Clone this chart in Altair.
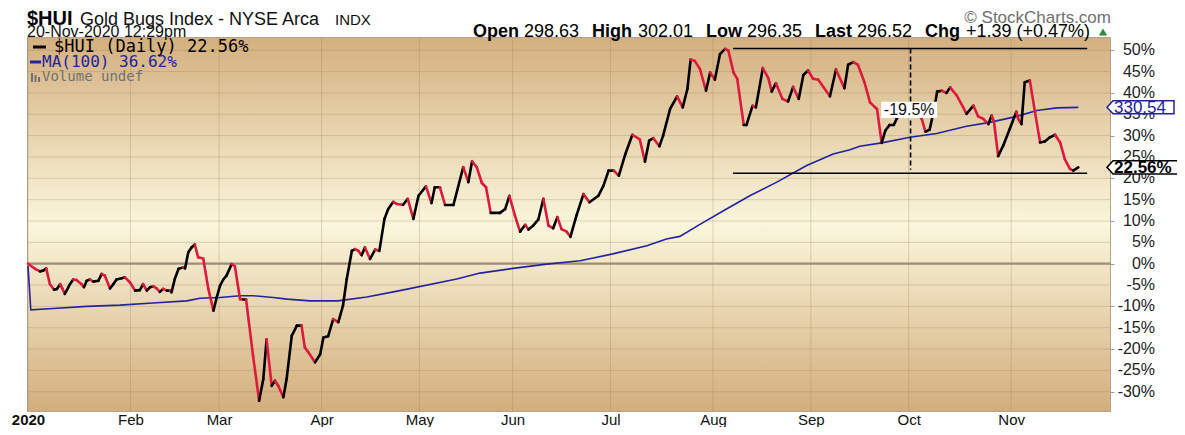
import altair as alt
import pandas as pd

# ---------------- data ----------------
# x = trading-day index since 2-Jan-2020, y = % change since start
hui_idx = [0, 1.5, 2.6, 3.3, 3.9, 4.7, 5.6, 6.2, 6.9, 7.4, 7.9, 9.0, 9.7, 10.4, 11.5, 12.0, 12.6, 13.3,
           14.0, 15.1, 15.8, 16.5, 17.6, 18.3, 19.0, 20.1, 20.8, 21.9, 23.0, 24.0, 24.7, 25.5, 26.2, 26.9,
           27.6, 28.3, 29.0, 29.8, 30.5, 30.8, 31.5, 32.3, 33.3, 33.7, 34.4, 35.1, 35.8, 36.5, 37.6, 38.7,
           39.8, 40.5, 41.2, 41.9, 42.6, 43.7, 44.4, 45.5, 46.2, 46.8, 48.3, 49.6, 50.5, 51.2, 52.3, 53.0,
           53.7, 54.8, 55.5, 56.6, 57.7, 58.7, 59.4, 60.2, 61.6, 62.7, 63.4, 64.4, 65.5, 66.6, 67.6, 68.4,
           69.5, 70.2, 70.9, 71.6, 72.3, 73.4, 74.5, 75.4, 76.5, 77.3, 78.4, 79.1, 80.5, 81.5, 82.7, 83.8,
           85.4, 86.6, 87.3, 88.4, 89.5, 91.3, 93.4, 94.5, 95.3, 96.3, 97.4, 98.3, 99.3, 101.3, 102.4, 103.3,
           104.5, 105.6, 106.7, 107.4, 108.4, 109.5, 110.6, 111.7, 112.7, 113.6, 114.5, 115.6, 116.4, 117.7,
           119.2, 120.5, 122.4, 123.5, 124.6, 125.7, 126.8, 128.2, 129.7, 131.3, 132.4, 133.3, 134.2, 135.5,
           136.3, 137.8, 139.3, 140.5, 141.5, 142.2, 143.1, 144.2, 145.5, 146.4, 147.4, 148.5, 149.6, 150.3,
           151.4, 152.2, 153.6, 154.2, 155.5, 156.2, 157.7, 158.9, 159.6, 160.5, 161.9, 163.1, 164.2, 165.4,
           166.4, 167.4, 168.5, 169.6, 172.1, 173.4, 175.2, 176.0, 177.1, 178.1, 179.5, 180.7, 181.8, 182.2,
           183.2, 184.0, 184.9, 185.8, 186.4, 188.2, 190.4, 191.8, 192.6, 193.5, 194.6, 195.1, 196.1, 197.1,
           197.9, 199.3, 200.7, 201.4, 202.9, 203.9, 205.0, 206.1, 206.8, 207.3, 208.2, 209.3, 210.7, 212.1,
           212.5, 213.2, 213.9, 215.0, 216.1, 217.2, 218.2, 219.3, 220.4, 221.5, 222.5, 223.6, 224.3, 225.4]
hui_pct = [0, -1.2, -1.8, -1.6, -1.1, -4.8, -6.1, -5.9, -4.8, -5.9, -7.1, -4.8, -3.7, -3.8, -4.8, -5.5, -4.0, -3.7,
           -4.2, -4.0, -2.4, -2.8, -5.8, -4.8, -3.7, -3.4, -3.2, -4.4, -6.3, -6.2, -4.8, -6.3, -5.5, -5.3,
           -5.8, -6.6, -5.9, -6.3, -6.3, -6.7, -3.6, -1.2, -0.9, -1.1, 2.7, 3.8, 4.5, 1.5, 1.2, -5.9,
           -11.0, -7.9, -5.2, -3.7, -2.8, -0.1, -0.6, -8.3, -8.4, -8.4, -21.6, -32.1, -27.0, -17.7, -28.6, -27.4,
           -28.6, -31.3, -27.0, -16.9, -14.5, -14.5, -19.6, -20.8, -23.1, -21.2, -17.3, -17.0, -13.0, -13.7, -9.8, -3.6,
           3.0, 3.4, 3.0, 2.0, 3.8, 1.1, 3.3, 3.0, 10.5, 12.8, 14.5, 14.0, 13.8, 15.2, 10.5, 15.9,
           18.1, 14.2, 17.9, 17.9, 13.75, 13.75, 22.6, 19.1, 24.0, 22.6, 18.9, 17.9, 11.9, 11.9, 12.8, 15.9,
           11.25, 7.5, 9.1, 8.0, 8.9, 10.3, 15.2, 8.9, 8.3, 10.9, 8.1, 7.5, 6.3, 11.25,
           16.3, 14.4, 15.9, 18.3, 21.8, 21.8, 20.6, 25.7, 30.2, 29.1, 23.9, 28.8, 29.4, 27.5,
           30.0, 36.25, 39.2, 36.6, 40.9, 47.8, 47.5, 45.6, 40.5, 44.8, 43.1, 49.1, 50.3, 49.9,
           44.8, 43.3, 32.5, 32.5, 37.0, 36.6, 45.8, 43.4, 40.3, 42.3, 38.6, 38.0, 41.4, 38.6,
           44.2, 45.25, 43.3, 43.1, 39.2, 45.5, 41.1, 46.6, 47.2, 46.6, 42.5, 37.8, 36.6, 36.25,
           28.3, 31.2, 32.5, 32.5, 33.9, 37.0, 36.0, 33.9, 30.9, 31.4, 37.0, 40.3, 40.5, 40.0,
           41.3, 39.4, 36.6, 35.1, 37.0, 34.5, 33.9, 32.7, 34.7, 33.3, 25.2, 27.7, 31.6, 35.6,
           33.9, 32.7, 42.5, 42.9, 35.5, 28.4, 28.6, 29.6, 30.2, 28.4, 24.5, 22.2, 21.8, 22.56]

ma_idx = [0, 0.6, 5.4, 12.6, 19.7, 26.8, 34.1, 36.9, 41.2, 45.5, 48.3, 52.6, 55.6, 60.5, 66.5, 72.7,
          79.8, 92.0, 97.0, 104.1, 111.3, 118.5, 125.5, 132.8, 137.0, 139.9, 144.2, 149.9, 154.9, 160.7,
          167.1, 172.8, 176.4, 178.5, 183.2, 189.3, 195.0, 201.4, 206.4, 212.2, 216.5, 220.8, 225.4]
ma_pct = [-0.5, -10.8, -10.5, -10.0, -9.7, -9.2, -8.7, -8.1, -7.9, -7.5, -7.5, -7.9, -8.3, -8.7, -8.7, -7.8,
          -6.3, -3.6, -2.2, -1.1, -0.1, 0.7, 2.3, 4.2, 5.8, 6.4, 9.2, 12.8, 15.9, 19.1,
          23.0, 25.7, 26.7, 27.5, 28.3, 29.6, 30.5, 32.2, 33.1, 34.5, 35.9, 36.5, 36.62]

month_idx = [0, 22, 41, 63, 84, 104, 125, 147, 168, 189, 211]
month_lbl = ["2020", "Feb", "Mar", "Apr", "May", "Jun", "Jul", "Aug", "Sep", "Oct", "Nov"]
y_ticks = list(range(-30, 55, 5))

range_start, range_end = 151.3, 227.3
range_top, range_bottom = 50.4, 21.2
drop_idx, drop_bottom = 189.4, 22.0
drop_label = "-19.5%"
last_pct, ma_last, ma_price = 22.56, 36.62, "330.54"

quote_parts = [("Open", True), ("298.63", False), ("High", True), ("302.01", False), ("Low", True),
               ("296.35", False), ("Last", True), ("296.52", False), ("Chg", True), ("+1.39 (+0.47%)", False)]
quote_x = [445, 496, 564, 610, 678, 719, 787, 829, 897, 938]

# ---------------- layout ----------------
W, H = 1082, 373
X_MAX = 232.2
Y_MIN, Y_MAX = -34.5, 52.86
RED, BLUE = "#DC1A3C", "#2323A0"
FONT = "Liberation Sans"
MONO = "DejaVu Sans Mono"

xs = alt.Scale(domain=[0, X_MAX], nice=False, zero=False)
ys = alt.Scale(domain=[Y_MIN, Y_MAX], nice=False, zero=False)

lbl_expr = " : ".join(f"datum.value == {v} ? '{l}'" for v, l in zip(month_idx, month_lbl)) + " : ''"
x_axis = alt.Axis(values=month_idx, labelExpr=lbl_expr, title=None, grid=False, domain=False,
                  ticks=False, labelFont=FONT, labelFontSize=15, labelColor="#111", labelPadding=1,
                  labelAlign="center", labelFlush=False, labelOverlap=False,
                  labelFontWeight=alt.condition("datum.value == 0", alt.value("bold"), alt.value("normal")))
y_axis = alt.Axis(values=y_ticks, orient="right", title=None, grid=False, labels=False,
                  domain=False, tickSize=4, tickColor="#9a9a9a")

X = lambda f: alt.X(f, scale=xs, axis=x_axis)
Y = lambda f: alt.Y(f, scale=ys, axis=y_axis)

seg = pd.DataFrame({"x": hui_idx[:-1], "x2": hui_idx[1:], "y": hui_pct[:-1], "y2": hui_pct[1:]})
seg["dir"] = ["down" if b < a else "up" for a, b in zip(hui_pct[:-1], hui_pct[1:])]
ma = pd.DataFrame({"x": ma_idx, "y": ma_pct})
gx = pd.DataFrame({"x": month_idx})
gy = pd.DataFrame({"y": y_ticks, "lbl": [f"{v}%" for v in y_ticks]})
one = pd.DataFrame({"a": [0]})

bg = alt.Chart(one).mark_rect(
    color=alt.Gradient(gradient="linear", x1=0, x2=0, y1=0, y2=1,
                       stops=[alt.GradientStop(color="#D4B07F", offset=0),
                              alt.GradientStop(color="#FAF6DC", offset=0.5),
                              alt.GradientStop(color="#D3AE7D", offset=1)])
).encode(x=alt.value(0), x2=alt.value(W), y=alt.value(0), y2=alt.value(H))

grid_v = alt.Chart(gx).mark_rule(color="#9C7A48", opacity=0.28, strokeWidth=1).encode(x=X("x:Q"))
grid_h = alt.Chart(gy).mark_rule(color="#9C7A48", opacity=0.28, strokeWidth=1).encode(y=Y("y:Q"))
zero = alt.Chart(pd.DataFrame({"y": [0]})).mark_rule(color="#A08A78", strokeWidth=2.2).encode(y=Y("y:Q"))
y_labels = alt.Chart(gy).mark_text(font=FONT, fontSize=16, color="#222", align="right",
                                   baseline="middle").encode(y=Y("y:Q"), x=alt.value(W + 45), text="lbl:N")

ma_line = alt.Chart(ma).mark_line(color=BLUE, strokeWidth=1.6).encode(x=X("x:Q"), y=Y("y:Q"))

segs = alt.Chart(seg).mark_rule(strokeWidth=2.6, strokeCap="round").encode(
    x=X("x:Q"), x2="x2:Q", y=Y("y:Q"), y2="y2:Q",
    color=alt.Color("dir:N", scale=alt.Scale(domain=["up", "down"], range=["#000000", RED]), legend=None))

hlines = alt.Chart(pd.DataFrame({"x": [range_start] * 2, "x2": [range_end] * 2,
                                 "y": [range_top, range_bottom]})).mark_rule(
    color="#000", strokeWidth=1.6).encode(x=X("x:Q"), x2="x2:Q", y=Y("y:Q"))
vline = alt.Chart(pd.DataFrame({"x": [drop_idx], "y": [range_top], "y2": [drop_bottom]})).mark_rule(
    color="#000", strokeWidth=1.6, strokeDash=[5, 3]).encode(x=X("x:Q"), y=Y("y:Q"), y2="y2:Q")

lab_box = alt.Chart(one).mark_rect(fill="white").encode(
    x=alt.datum(183.1, scale=xs), x2=alt.datum(195.1), y=alt.datum(37.9, scale=ys), y2=alt.datum(34.1))
lab_txt = alt.Chart(one).mark_text(
    font=FONT, fontSize=16, color="#111", align="center", baseline="middle").encode(
    x=alt.datum(189.1, scale=xs), y=alt.datum(36.0, scale=ys), text=alt.value(drop_label))


# right-hand value flags
def flag(val, txt, colr, w, bold):
    half = 13.0 / w
    tip = -1 + 12.0 / w
    shape = f"M-1,0L{tip:.3f},{-half:.3f}L1,{-half:.3f}L1,{half:.3f}L{tip:.3f},{half:.3f}Z"
    box = alt.Chart(one).mark_point(
        shape=shape, size=w * w, fill="white", fillOpacity=1, opacity=1, stroke=colr, strokeWidth=1.5).encode(
        x=alt.value(1079 + w / 2), y=alt.datum(val, scale=ys))
    t = alt.Chart(one).mark_text(
        font=FONT, fontSize=17, color=colr, align="left", baseline="middle",
        fontWeight="bold" if bold else "normal", dy=1).encode(
        x=alt.value(1086), y=alt.datum(val, scale=ys), text=alt.value(txt))
    return box + t


flag_ma = flag(ma_last, ma_price, BLUE, 67, False)
flag_last = flag(last_pct, f"{last_pct}%", "#000", 72, True)


def txt(s, x, y, size=17, weight="normal", color="#111", font=FONT, align="left", baseline="alphabetic"):
    return alt.Chart(one).mark_text(
        text=s, font=font, fontSize=size, fontWeight=weight, color=color, align=align,
        baseline=baseline).encode(x=alt.value(x), y=alt.value(y))


header = [
    txt("$HUI", -1, -13, size=20, weight="bold", color="#000"),
    txt("Gold Bugs Index - NYSE Arca", 52, -13, size=18),
    txt("INDX", 307, -13, size=15),
    txt("20-Nov-2020 12:29pm", -1, -1, size=16),
    txt("© StockCharts.com", 1083, -15, size=17, color="#707070", align="right"),
]
for (s, b), x in zip(quote_parts, quote_x):
    header.append(txt(s, x, -1, size=18, weight="bold" if b else "normal", color="#000"))
tri = alt.Chart(one).mark_point(
    shape="triangle-up", size=70, filled=True, color="#2E8B3A", opacity=1).encode(
    x=alt.value(1075), y=alt.value(-6))

# in-plot legend
leg_dash1 = alt.Chart(one).mark_rule(color="#000", strokeWidth=3).encode(
    x=alt.value(5), x2=alt.value(18), y=alt.value(9))
leg_dash2 = alt.Chart(one).mark_rule(color=BLUE, strokeWidth=3).encode(
    x=alt.value(2), x2=alt.value(13), y=alt.value(24))
legend = [
    leg_dash1, leg_dash2,
    txt(f"$HUI (Daily) {last_pct}%", 26, 9, size=17, color="#000", font=MONO, baseline="middle"),
    txt(f"MA(100) {ma_last}%", 14, 24, size=16, color=BLUE, font=MONO, baseline="middle"),
    txt("Volume undef", 14, 39, size=14, color="#707070", font=MONO, baseline="middle"),
]
icons = [alt.Chart(one).mark_rule(color="#707070", strokeWidth=2).encode(
    x=alt.value(x), y=alt.value(y), y2=alt.value(44)) for x, y in [(4, 35), (7.5, 37), (11, 39)]]

chart = alt.layer(
    bg, grid_v, grid_h, zero, y_labels, ma_line, segs, hlines, vline, lab_box, lab_txt,
    flag_ma, flag_last, *header, tri, *legend, *icons
).properties(
    width=W, height=H,
    padding={"left": 20, "top": 30, "right": 67, "bottom": 16},
    autosize=alt.AutoSizeParams(type="none"),
    background="white",
).configure_view(stroke="#B8A08A", strokeWidth=2)

chart.save("out.html", embed_options={"renderer": "svg", "actions": False})
